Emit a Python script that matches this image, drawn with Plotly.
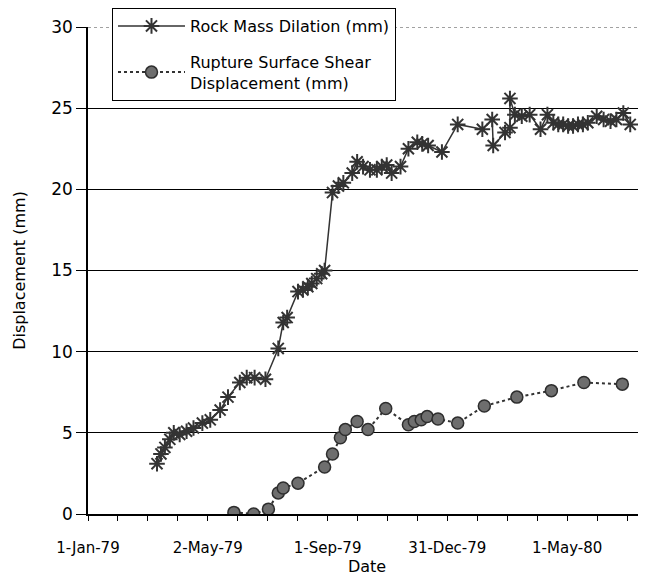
import pandas as pd
import plotly.graph_objects as go

start = pd.Timestamp("1979-01-01")

# Rock Mass Dilation (days after 1-Jan-79, mm)
rock_days = [70, 74, 78, 83, 87, 93, 100, 107, 116, 124, 134, 142, 154, 161, 169, 180,
             193, 198, 202, 213, 218, 223, 227, 232, 237, 240, 248, 254, 259, 268, 273,
             279, 286, 293, 298, 303, 308, 317, 325, 334, 339, 345, 359, 375, 400, 410,
             411, 423, 428, 428, 433, 440, 448, 459, 466, 472, 477, 482, 487, 492, 497,
             502, 507, 516, 523, 530, 536, 543, 550]
rock_mm = [3.1, 3.7, 4.1, 4.6, 5.0, 4.9, 5.1, 5.3, 5.6, 5.8, 6.4, 7.2, 8.1, 8.4, 8.4, 8.3,
           10.2, 11.8, 12.1, 13.7, 13.8, 14.0, 14.2, 14.5, 14.8, 15.0, 19.8, 20.2, 20.4, 21.0, 21.7,
           21.4, 21.2, 21.2, 21.4, 21.5, 21.0, 21.4, 22.5, 22.9, 22.8, 22.7, 22.3, 24.0, 23.7, 24.3,
           22.7, 23.5, 23.8, 25.6, 24.6, 24.5, 24.6, 23.7, 24.6, 24.1, 24.0, 24.0, 23.9, 23.9, 24.0,
           24.0, 24.1, 24.5, 24.3, 24.2, 24.3, 24.7, 24.0]

# Rupture Surface Shear Displacement (days after 1-Jan-79, mm)
shear_days = [148, 168, 183, 193, 198, 213, 240, 248, 256, 261, 273, 284, 302, 325, 331,
              338, 344, 355, 375, 402, 435, 470, 503, 542]
shear_mm = [0.1, 0.0, 0.3, 1.3, 1.6, 1.9, 2.9, 3.7, 4.7, 5.2, 5.7, 5.2, 6.5, 5.5, 5.7,
            5.8, 6.0, 5.85, 5.6, 6.65, 7.2, 7.6, 8.1, 8.0]

y_ticks = [0, 5, 10, 15, 20, 25, 30]

rock_x = [start + pd.Timedelta(days=d) for d in rock_days]
shear_x = [start + pd.Timedelta(days=d) for d in shear_days]

FONT = "DejaVu Sans, sans-serif"
DAY_MS = 86400000

fig = go.Figure()
fig.add_trace(go.Scatter(
    x=rock_x, y=rock_mm, mode="lines+markers", name="Rock Mass Dilation (mm)",
    legendgroup="a",
    line=dict(color="#333333", width=1.5),
    marker=dict(symbol="asterisk", size=13, line=dict(color="#333333", width=2), color="#333333"),
))
fig.add_trace(go.Scatter(
    x=shear_x, y=shear_mm, mode="lines+markers", name="Rupture Surface Shear<br>Displacement (mm)",
    legendgroup="b",
    line=dict(color="#333333", width=2, dash="dot"),
    marker=dict(symbol="circle", size=12, color="#6e6e6e", line=dict(color="#2e2e2e", width=1.5)),
))

end = start + pd.Timedelta(days=566)

# page body has an 8px margin, so the figure is sized to the visible area
fig.update_layout(
    width=638, height=568,
    margin=dict(l=80, r=0, t=19, b=62, autoexpand=False),
    paper_bgcolor="white", plot_bgcolor="white",
    font=dict(family=FONT, color="black", size=14),
    showlegend=True,
    legend=dict(
        x=0.043, y=1.039, xanchor="left", yanchor="top",
        bgcolor="white", bordercolor="black", borderwidth=1,
        font=dict(family=FONT, size=16, color="black"),
        itemwidth=67, tracegroupgap=12,
    ),
    xaxis=dict(
        type="date", range=[start, end], automargin=False,
        tick0=start, dtick=121.5 * DAY_MS, tickformat="%-d-%b-%y",
        ticks="outside", ticklen=5, tickcolor="black",
        showline=True, linecolor="black", linewidth=1.5,
        showgrid=False, zeroline=False,
        tickfont=dict(family=FONT, size=15),
        ticklabelstandoff=14,
        minor=dict(dtick=30.375 * DAY_MS, tick0=start, ticks="outside", ticklen=5,
                   tickcolor="black", showgrid=False),
        title=dict(text="Date", font=dict(family=FONT, size=16), standoff=0),
    ),
    yaxis=dict(
        range=[0, 30], tickvals=y_ticks, automargin=False,
        ticks="outside", ticklen=10, tickcolor="black",
        showline=True, linecolor="black", linewidth=1.5,
        showgrid=True, gridcolor="black", gridwidth=1.2,
        zeroline=False,
        tickfont=dict(family=FONT, size=17),
        title=dict(text="Displacement (mm)", font=dict(family=FONT, size=16), standoff=22),
    ),
    shapes=[
        dict(type="line", xref="paper", yref="y", x0=0, x1=1, y0=30, y1=30,
             line=dict(color="white", width=3), layer="above"),
        dict(type="line", xref="paper", yref="y", x0=0, x1=1, y0=30, y1=30,
             line=dict(color="#444444", width=1, dash="dot"), layer="above"),
    ],
)

fig.write_html("out.html")
